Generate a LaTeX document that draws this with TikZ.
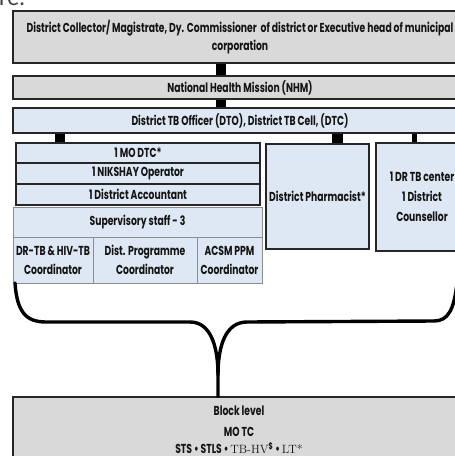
\documentclass[tikz,border=0pt]{standalone}
\usepackage{fontspec}
\newfontfamily\hd{Poppins}[FakeStretch=0.71,BoldFeatures={FakeStretch=0.71}]
\newfontfamily\headfont{Carlito}
\definecolor{boxgray}{HTML}{D9D9D9}
\definecolor{boxblue}{HTML}{DEE8F4}
\definecolor{edge}{HTML}{262626}
\definecolor{softedge}{HTML}{8C8C8C}
\definecolor{ink}{HTML}{141414}
\tikzset{
  base/.style={rectangle, inner sep=0pt, align=center, text=ink,
    font=\hd\bfseries\fontsize{13}{19}\selectfont},
  graybox/.style={base, fill=boxgray, draw=edge, line width=1.3pt},
  bluebox/.style={base, fill=boxblue, draw=edge, line width=1.3pt},
  softbox/.style={base, fill=boxblue, draw=softedge, line width=0.8pt},
  bar/.style={draw=black, line width=#1},
  brace/.style={draw=black, line width=3.4pt, line cap=round}
}
\begin{document}
\begin{tikzpicture}[x=1pt,y=-1pt]
\useasboundingbox (0,0) rectangle (455,456);

% tail of the heading above the chart
\node[anchor=base west, inner sep=0pt, text=black!75, font=\headfont\fontsize{24}{24}\selectfont] (hdr) at (-1,5) {re.};

% top chain
\node[graybox, minimum width=454pt, minimum height=52pt, font=\hd\bfseries\fontsize{13}{18}\selectfont] (dc) at (240,37)
  {District Collector/ Magistrate, Dy. Commissioner\ \ of district or Executive head of municipal\\corporation};
\node[graybox, minimum width=454pt, minimum height=23pt] (nhm) at (240,87.5)
  {National Health Mission (NHM)};
\node[bluebox, minimum width=454pt, minimum height=25pt] (dtc) at (240,120.5)
  {District TB Officer (DTO), District TB Cell, (DTC)};

% district staff stack
\node[bluebox, minimum width=244pt, minimum height=20pt] (mo) at (138,153) {1 MO DTC*};
\node[bluebox, minimum width=244pt, minimum height=21pt] (nik) at (138,173.5) {1 NIKSHAY Operator};
\node[bluebox, minimum width=244pt, minimum height=21pt] (acc) at (138,194.5) {1 District Accountant};
\node[softbox, minimum width=249pt, minimum height=30pt] (sup) at (137.5,222) {Supervisory staff - 3};
\node[softbox, minimum width=80pt, minimum height=46pt] (c1) at (53,260) {DR-TB \& HIV-TB\\Coordinator};
\node[softbox, minimum width=104pt, minimum height=46pt] (c2) at (145,260) {Dist. Programme\\Coordinator};
\node[softbox, minimum width=65pt, minimum height=46pt] (c3) at (229.5,260) {ACSM PPM\\Coordinator};

% right hand units
\node[bluebox, minimum width=103pt, minimum height=105pt] (ph) at (317.5,196.5) {District Pharmacist*};
\node[bluebox, minimum width=92pt, minimum height=108pt, font=\hd\bfseries\fontsize{13}{20}\selectfont] (dr) at (422,197)
  {1 DR TB center\\1 District\\Counsellor};

% block level
\node[graybox, minimum width=454pt, minimum height=73pt] (blk) at (240,433.5) {};
\node[base, anchor=base] (blk1) at (239,415) {Block level};
\node[base, anchor=base] (blk2) at (239,436) {MO TC};
\node[base, anchor=base] (blk3) at (239,453.5)
  {STS \textbullet\ STLS \textbullet\ {\normalfont\fontsize{12}{12}\selectfont TB-HV}\textsuperscript{\$} \textbullet\ {\normalfont\fontsize{12}{12}\selectfont LT*}};

% short connector bars
\coordinate (xa) at (221,0);
\coordinate (xb) at (60,0);
\coordinate (xc) at (337.5,0);
\coordinate (xd) at (414.5,0);
\draw[bar=9.5pt] (dc.south -| xa) -- (nhm.north -| xa);
\draw[bar=9.5pt] (nhm.south -| xa) -- (dtc.north -| xa);
\draw[bar=10pt] (dtc.south -| xb) -- (mo.north -| xb);
\draw[bar=10.5pt] (dtc.south -| xc) -- (ph.north -| xc);
\draw[bar=5pt] (dtc.south -| xd) -- (dr.north -| xd);

% merging brace down to the block level
\coordinate (bl) at (15,283);
\coordinate (br) at (457,283);
\coordinate (tip) at (218,375);
\draw[brace] (bl) .. controls (17,312) and (26,322) .. (46,322) -- (190,322)
  .. controls (210,322) and (218,345) .. (tip) -- (blk.north -| tip);
\draw[brace] (tip) .. controls (218,345) and (226,322) .. (247,322) -- (434,321)
  .. controls (448,321) and (454,310) .. (br);
\end{tikzpicture}
\end{document}
